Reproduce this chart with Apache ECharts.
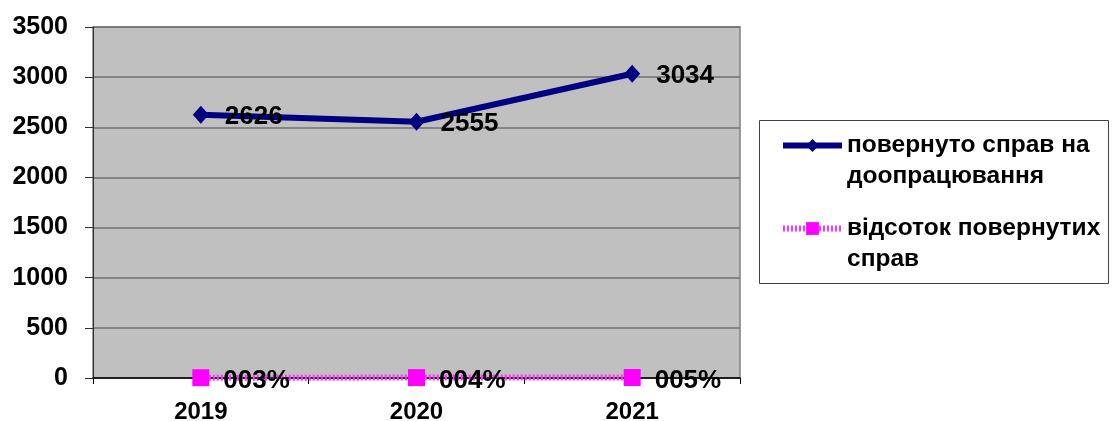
<!DOCTYPE html>
<html>
<head>
<meta charset="utf-8">
<script src="https://cdn.jsdelivr.net/npm/echarts@6/dist/echarts.min.js"></script>
<style>html,body{margin:0;padding:0;background:#fff}#c{width:1116px;height:421px}</style>
</head>
<body>
<div id="c"></div>
<script>
var categories = ['2019', '2020', '2021'];
var returnedCases = [2626, 2555, 3034];
var returnedPct = [3, 4, 5];
var pctLabels = ['003%', '004%', '005%'];
var yTicks = { min: 0, max: 3500, interval: 500 };
var seriesNames = ['повернуто справ на доопрацювання', 'відсоток повернутих справ'];
var legendText = {};
legendText[seriesNames[0]] = 'повернуто справ на\nдоопрацювання';
legendText[seriesNames[1]] = 'відсоток повернутих\nсправ';

var FONT = '"Liberation Sans", Arial, sans-serif';
var chart = echarts.init(document.getElementById('c'), null, { renderer: 'canvas' });
chart.setOption({
  animation: false,
  backgroundColor: '#ffffff',
  grid: {
    left: 93, top: 27, right: 376, bottom: 43,
    outerBoundsMode: 'none', containLabel: false,
    show: true, backgroundColor: '#C0C0C0', borderColor: '#808080', borderWidth: 1.5
  },
  graphic: [{
    type: 'rect', left: 759, top: 120, z: -1,
    shape: { width: 349, height: 163 },
    style: { fill: '#ffffff', stroke: '#404040', lineWidth: 1 }
  }],
  legend: {
    orient: 'vertical', left: 780, top: 99,
    padding: 0, itemGap: -10,
    itemWidth: 59, itemHeight: 16,
    data: seriesNames,
    lineStyle: { width: 'inherit' },
    formatter: function (n) { return '\n' + legendText[n]; },
    textStyle: {
      fontFamily: FONT, fontWeight: 'bold', fontSize: 24.5, color: '#000',
      lineHeight: 31
    }
  },
  xAxis: {
    type: 'category', data: categories, boundaryGap: true,
    axisLine: { show: true, lineStyle: { color: '#000', width: 1.5 } },
    axisTick: { show: true, length: 6, lineStyle: { color: '#000' } },
    axisLabel: { margin: 22, fontFamily: FONT, fontWeight: 'bold', fontSize: 24, color: '#000' },
    splitLine: { show: false }
  },
  yAxis: {
    type: 'value', min: yTicks.min, max: yTicks.max, interval: yTicks.interval,
    axisLine: { show: true, lineStyle: { color: '#303030', width: 1 } },
    axisTick: { show: true, length: 8, inside: false, lineStyle: { color: '#303030' } },
    axisLabel: {
      margin: 25, fontFamily: FONT, fontWeight: 'bold', fontSize: 25, color: '#000',
      formatter: function (v) { return String(v); }
    },
    splitLine: { show: true, lineStyle: { color: '#707070', width: 1.5 } }
  },
  series: [
    {
      name: seriesNames[0], type: 'line', data: returnedCases, clip: false,
      symbol: 'diamond', symbolSize: [16, 18],
      itemStyle: { color: '#000080' },
      lineStyle: { color: '#000080', width: 6 },
      label: {
        show: true, position: 'right', distance: 16, offset: [0, 2],
        fontFamily: FONT, fontWeight: 'bold', fontSize: 26, color: '#000'
      },
      z: 3
    },
    {
      name: seriesNames[1], type: 'line', data: returnedPct, clip: false,
      symbol: 'rect', symbolSize: 17,
      itemStyle: { color: '#FF00FF' },
      lineStyle: { color: '#FF33FF', width: 6, type: [2, 2] },
      label: {
        show: true, position: 'right', distance: 14, offset: [0, 3],
        formatter: function (p) { return pctLabels[p.dataIndex]; },
        fontFamily: FONT, fontWeight: 'bold', fontSize: 26, color: '#000'
      },
      z: 4
    }
  ]
});
</script>
</body>
</html>
